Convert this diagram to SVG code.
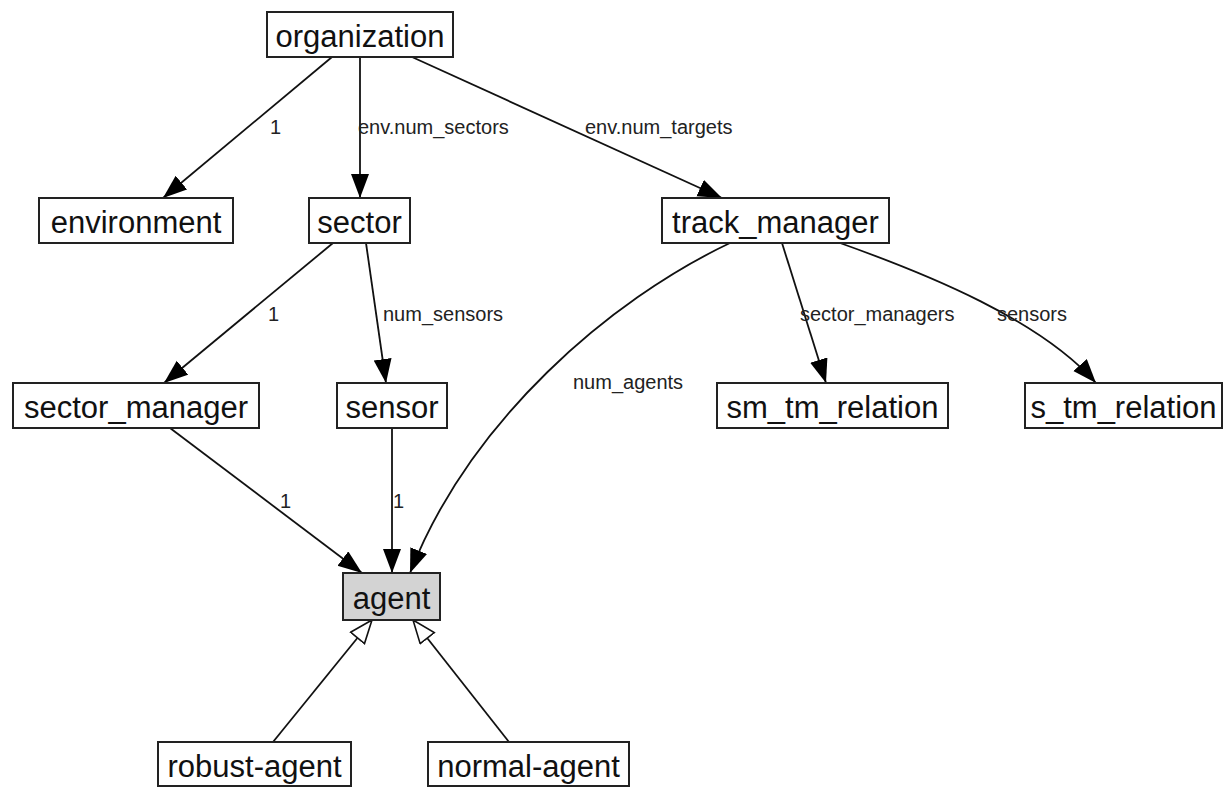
<svg xmlns="http://www.w3.org/2000/svg" width="1226" height="787" viewBox="0 0 1226 787">
<style>
.node rect{fill:#fff;stroke:#222;stroke-width:2}
.node text{font-family:"Liberation Sans",Arial,sans-serif;font-size:31px;fill:#111;text-anchor:middle}
.edge{fill:none;stroke:#111;stroke-width:1.8}
.lbl{font-family:"Liberation Sans",Arial,sans-serif;font-size:20px;fill:#222}
</style>
<defs>
<marker id="arr" markerUnits="userSpaceOnUse" markerWidth="26" markerHeight="20" refX="24" refY="9" orient="auto">
<path d="M0,0 L24,9 L0,18 z" fill="#000"/>
</marker>
<marker id="hol" markerUnits="userSpaceOnUse" markerWidth="28" markerHeight="22" refX="24" refY="10" orient="auto">
<path d="M1,1 L24,10 L1,19 z" fill="#fff" stroke="#111" stroke-width="1.6"/>
</marker>
</defs>
<rect width="1226" height="787" fill="#fff"/>
<g id="connectors">
<path class="edge" d="M332,57 L163,198" marker-end="url(#arr)"/>
<path class="edge" d="M360,57 L360,198" marker-end="url(#arr)"/>
<path class="edge" d="M412,57 L722,198" marker-end="url(#arr)"/>
<path class="edge" d="M333,243 L164,383" marker-end="url(#arr)"/>
<path class="edge" d="M366,243 L386,383" marker-end="url(#arr)"/>
<path class="edge" d="M730,243 C610,300 470,420 410,573" marker-end="url(#arr)"/>
<path class="edge" d="M782,243 L826,383" marker-end="url(#arr)"/>
<path class="edge" d="M840,243 C930,275 1040,320 1096,383" marker-end="url(#arr)"/>
<path class="edge" d="M170,428 L362,573" marker-end="url(#arr)"/>
<path class="edge" d="M392,428 L392,573" stroke="#555" marker-end="url(#arr)"/>
<path class="edge" d="M273,742 L372,620" marker-end="url(#hol)"/>
<path class="edge" d="M509,742 L413,620" marker-end="url(#hol)"/>
<text class="lbl" x="270" y="134">1</text>
<text class="lbl" x="358" y="134">env.num_sectors</text>
<text class="lbl" x="585" y="134">env.num_targets</text>
<text class="lbl" x="268" y="321">1</text>
<text class="lbl" x="383" y="321">num_sensors</text>
<text class="lbl" x="800" y="321">sector_managers</text>
<text class="lbl" x="997" y="321">sensors</text>
<text class="lbl" x="573" y="389">num_agents</text>
<text class="lbl" x="280" y="508">1</text>
<text class="lbl" x="393" y="508">1</text>
</g>
<g id="organization" class="node"><rect x="267" y="12" width="186" height="45"/><text x="360" y="47">organization</text></g>
<g id="environment" class="node"><rect x="39" y="198" width="194" height="45"/><text x="136" y="233">environment</text></g>
<g id="sector" class="node"><rect x="309" y="198" width="101" height="45"/><text x="359.5" y="233">sector</text></g>
<g id="track_manager" class="node"><rect x="662" y="198" width="227" height="45"/><text x="775.5" y="233">track_manager</text></g>
<g id="sector_manager" class="node"><rect x="13" y="383" width="246" height="45"/><text x="136" y="418">sector_manager</text></g>
<g id="sensor" class="node"><rect x="337" y="383" width="110" height="45"/><text x="392" y="418">sensor</text></g>
<g id="sm_tm_relation" class="node"><rect x="717" y="383" width="231" height="45"/><text x="832.5" y="418">sm_tm_relation</text></g>
<g id="s_tm_relation" class="node"><rect x="1025" y="383" width="197" height="45"/><text x="1123.5" y="418">s_tm_relation</text></g>
<g id="agent" class="node"><rect x="343" y="573" width="97" height="47" style="fill:#d3d3d3"/><text x="391.5" y="609">agent</text></g>
<g id="robust-agent" class="node"><rect x="158" y="742" width="193" height="44"/><text x="254.5" y="777">robust-agent</text></g>
<g id="normal-agent" class="node"><rect x="428" y="742" width="201" height="44"/><text x="528.5" y="777">normal-agent</text></g>
</svg>
